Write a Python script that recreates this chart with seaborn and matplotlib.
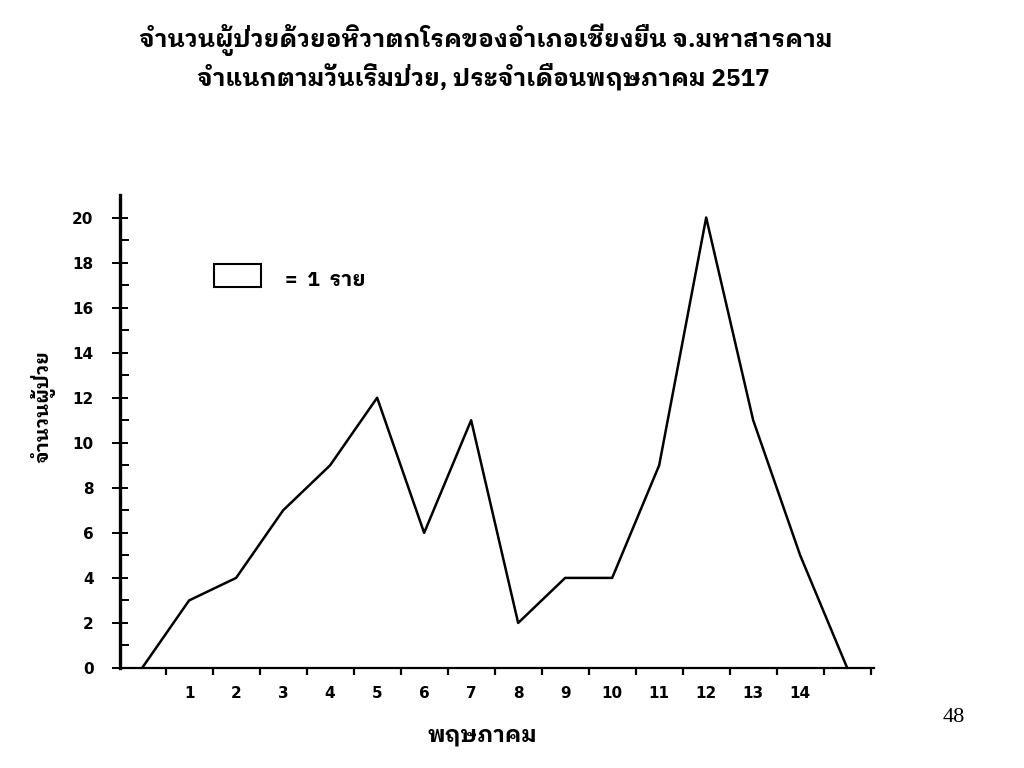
import matplotlib
matplotlib.use("Agg")
import matplotlib.pyplot as plt
from matplotlib import font_manager
from matplotlib.ft2font import FT2Font
from matplotlib.patches import Rectangle
from matplotlib.ticker import FixedLocator
import seaborn as sns

# data (cases per day of onset, May 2517)
days = list(range(0, 16))
cases = [0, 3, 4, 7, 9, 12, 6, 11, 2, 4, 4, 9, 20, 11, 5, 0]
day_ticks = list(range(1, 15))
day_labels = [str(d) for d in day_ticks]
y_ticks = list(range(0, 21, 2))
y_labels = [str(v) for v in y_ticks]

title_1 = "จำนวนผู้ป่วยด้วยอหิวาตกโรคของอำเภอเชียงยืน จ.มหาสารคาม"
title_2 = "จำแนกตามวันเริ่มป่วย, ประจำเดือนพฤษภาคม 2517"
y_title = "จำนวนผู้ป่วย"
x_title = "พฤษภาคม"
legend_text = "=  1  ราย"
page_no = "48"


def thai_families():
    names = []
    for f in font_manager.fontManager.ttflist:
        try:
            if FT2Font(f.fname).get_char_index(ord("ก")) and f.name not in names:
                names.append(f.name)
        except Exception:
            pass
    # looped Thai faces look closest to the old typewriter print
    names.sort(key=lambda n: ("Looped" not in n, "Thai" not in n, n))
    return names


sns.set_theme(style="ticks")
thai = thai_families()
plt.rcParams["font.family"] = ["DejaVu Sans"]
plt.rcParams["text.color"] = "black"
text_fonts = thai + ["DejaVu Sans"]

fig = plt.figure(figsize=(10.24, 7.68), dpi=100)
ax = fig.add_axes([120 / 1024, 1 - 668 / 768, 754 / 1024, 473 / 768])

sns.lineplot(x=days, y=cases, ax=ax, color="black", linewidth=1.8, clip_on=False)

ax.set_xlim(-0.47, 15.57)
ax.set_ylim(0, 21)

for side in ["top", "right"]:
    ax.spines[side].set_visible(False)
ax.spines["left"].set_linewidth(2.4)
ax.spines["bottom"].set_linewidth(1.6)
ax.spines["left"].set_color("black")
ax.spines["bottom"].set_color("black")

# x: day numbers centred between ticks
ax.set_xticks(day_ticks)
ax.set_xticklabels(day_labels, fontweight="bold", fontsize=11)
ax.xaxis.set_minor_locator(FixedLocator([d + 0.5 for d in range(0, 16)]))
ax.tick_params(axis="x", which="major", length=0, pad=13, labelcolor="black")
ax.tick_params(axis="x", which="minor", direction="out", length=5, width=1.6, color="black")

# y: even labels, crossing ticks; odd minor ticks inside
ax.set_yticks(y_ticks)
ax.set_yticklabels(y_labels, fontweight="bold", fontsize=11)
ax.yaxis.set_minor_locator(FixedLocator(list(range(1, 21, 2))))
ax.tick_params(axis="y", which="major", direction="inout", length=12, width=1.4, pad=13,
               color="black", labelcolor="black")
ax.tick_params(axis="y", which="minor", direction="in", length=6.5, width=1.4, color="black")

# legend box: one cell = 1 case
ax.add_patch(Rectangle((1.52, 16.9), 1.0, 1.05, fill=False, edgecolor="black", linewidth=1.5))
ax.text(3.05, 17.2, legend_text, family=text_fonts, fontweight="bold", fontsize=15, va="center", ha="left")

fig.text(486 / 1024, 1 - 40 / 768, title_1, family=text_fonts, fontweight="bold", fontsize=17.5, ha="center", va="center")
fig.text(483 / 1024, 1 - 77 / 768, title_2, family=text_fonts, fontweight="bold", fontsize=17.5, ha="center", va="center")
fig.text(43 / 1024, 1 - 407 / 768, y_title, family=text_fonts, fontweight="bold", fontsize=14, rotation=90, ha="center", va="center")
fig.text(482 / 1024, 1 - 735 / 768, x_title, family=text_fonts, fontweight="bold", fontsize=16, ha="center", va="center")
fig.text(954 / 1024, 1 - 717 / 768, page_no, family=["Liberation Serif", "DejaVu Serif"], fontsize=16, ha="center", va="center")

fig.savefig("out.png", dpi=100, facecolor="white")
